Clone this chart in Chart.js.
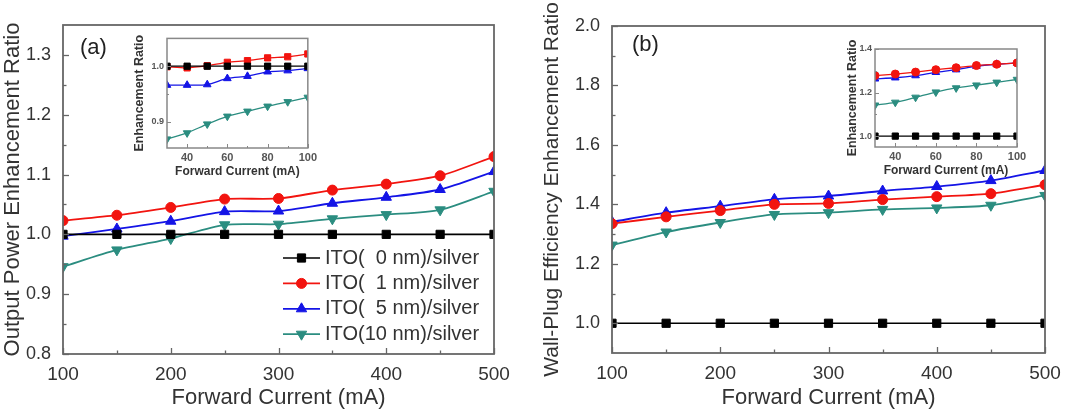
<!DOCTYPE html>
<html>
<head>
<meta charset="utf-8">
<script src="https://cdn.jsdelivr.net/npm/chart.js@4.4.1/dist/chart.umd.min.js"></script>
<style>
  body { margin: 0; background: #fff; width: 1078px; height: 418px; overflow: hidden; position: relative; }
  .panel { position: absolute; }
</style>
</head>
<body>
<div class="panel" style="left:0;top:0;width:539px;height:418px"><canvas id="powerChart"></canvas></div>
<div class="panel" style="left:540px;top:0;width:538px;height:418px"><canvas id="wpeChart"></canvas></div>
<div class="panel" style="left:130px;top:30px;width:190px;height:150px"><canvas id="powerInset"></canvas></div>
<div class="panel" style="left:840px;top:32px;width:190px;height:152px"><canvas id="wpeInset"></canvas></div>
<script>
// forward currents (mA)
const currents = [100, 150, 200, 250, 300, 350, 400, 450, 500];
const insetCurrents = [30, 40, 50, 60, 70, 80, 90, 100];

const labelsA = ['ITO(  0 nm)/silver', 'ITO(  1 nm)/silver', 'ITO(  5 nm)/silver', 'ITO(10 nm)/silver'];
const labelsB = ['ITO (  0 nm)/silver', 'ITO (  1 nm)/silver', 'ITO (  5 nm)/silver', 'ITO (10 nm)/silver'];

// (a) output power enhancement ratio
const powerIto0 = [1.0, 1.0, 1.0, 1.0, 1.0, 1.0, 1.0, 1.0, 1.0];
const powerIto1 = [1.023, 1.032, 1.045, 1.059, 1.060, 1.074, 1.084, 1.098, 1.130];
const powerIto5 = [0.997, 1.009, 1.022, 1.038, 1.039, 1.052, 1.062, 1.075, 1.105];
const powerIto10 = [0.946, 0.974, 0.993, 1.016, 1.017, 1.026, 1.033, 1.041, 1.072];

const powerInsetIto0 = [1.0, 1.0, 1.0, 1.0, 1.0, 1.0, 1.0, 1.0];
const powerInsetIto1 = [0.999, 0.997, 1.001, 1.007, 1.010, 1.015, 1.017, 1.022];
const powerInsetIto5 = [0.966, 0.966, 0.967, 0.978, 0.982, 0.990, 0.992, 0.996];
const powerInsetIto10 = [0.869, 0.880, 0.896, 0.910, 0.919, 0.928, 0.936, 0.944];

// (b) wall-plug efficiency enhancement ratio
const wpeIto0 = [1.0, 1.0, 1.0, 1.0, 1.0, 1.0, 1.0, 1.0, 1.0];
const wpeIto1 = [1.335, 1.358, 1.379, 1.400, 1.403, 1.416, 1.426, 1.436, 1.466];
const wpeIto5 = [1.341, 1.372, 1.394, 1.417, 1.428, 1.445, 1.460, 1.480, 1.514];
const wpeIto10 = [1.263, 1.307, 1.339, 1.366, 1.372, 1.383, 1.388, 1.397, 1.430];

const wpeInsetIto0 = [1.0, 1.0, 1.0, 1.0, 1.0, 1.0, 1.0, 1.0];
const wpeInsetIto1 = [1.278, 1.285, 1.294, 1.305, 1.314, 1.324, 1.330, 1.336];
const wpeInsetIto5 = [1.263, 1.268, 1.278, 1.293, 1.305, 1.321, 1.330, 1.336];
const wpeInsetIto10 = [1.142, 1.155, 1.178, 1.202, 1.221, 1.234, 1.247, 1.260];

const FONT = 'Arial, "Liberation Sans", sans-serif';
Chart.defaults.font.family = FONT;
Chart.defaults.animation = false;

const BLACK = '#000000', RED = '#f2140f', BLUE = '#1414e6', TEAL = '#2b8d80';

function series(label, xs, ys, color, style, rot, r, w) {
    return {
        label, data: xs.map((x, i) => ({ x, y: ys[i] })),
        borderColor: color, backgroundColor: color, pointBackgroundColor: color, pointBorderColor: color,
        borderWidth: w, pointStyle: style, pointRotation: rot, pointRadius: r, pointBorderWidth: 1,
        tension: 0.25
    };
}

// box round the plot plus inward major/minor ticks on bottom and left
const framePlugin = {
    id: 'frame',
    afterDatasetsDraw(chart, args, o) {
        const { ctx, chartArea: a } = chart;
        ctx.save();
        ctx.strokeStyle = o.color;
        ctx.lineWidth = o.width;
        ctx.strokeRect(a.left, a.top, a.right - a.left, a.bottom - a.top);
        ctx.lineWidth = o.tickWidth;
        ['x', 'y'].forEach(id => {
            const s = chart.scales[id];
            const vals = s.ticks.map(t => t.value);
            const step = vals.length > 1 ? vals[1] - vals[0] : s.max - s.min;
            const marks = [];
            for (let i = -1; i < vals.length; i++) {
                if (i >= 0) marks.push([vals[i], o.major]);
                const m = (i >= 0 ? vals[i] : vals[0] - step) + step / 2;
                if (m > s.min + 1e-9 && m < s.max - 1e-9) marks.push([m, o.minor]);
            }
            marks.forEach(([v, len]) => {
                const p = Math.round(s.getPixelForValue(v)) + 0.5;
                ctx.beginPath();
                if (id === 'x') { ctx.moveTo(p, a.bottom); ctx.lineTo(p, a.bottom - len); }
                else { ctx.moveTo(a.left, p); ctx.lineTo(a.left + len, p); }
                ctx.stroke();
            });
        });
        ctx.restore();
    }
};

// line + marker legend and panel tag
const keyPlugin = {
    id: 'key',
    afterDraw(chart, args, o) {
        const ctx = chart.ctx;
        ctx.save();
        ctx.textBaseline = 'middle';
        ctx.fillStyle = '#222';
        ctx.font = o.tagFont;
        ctx.fillText(o.tag, o.tagX, o.tagY);
        chart.data.datasets.forEach((ds, i) => {
            const y = o.y + i * o.gap;
            ctx.strokeStyle = ds.borderColor;
            ctx.lineWidth = ds.borderWidth;
            ctx.beginPath(); ctx.moveTo(o.x, y); ctx.lineTo(o.x + o.len, y); ctx.stroke();
            ctx.fillStyle = ds.backgroundColor;
            ctx.lineWidth = 1;
            Chart.helpers.drawPoint(ctx, { pointStyle: ds.pointStyle, rotation: ds.pointRotation, radius: ds.pointRadius, borderWidth: 1 }, o.x + o.len / 2, y);
            ctx.fillStyle = '#333';
            ctx.font = o.font;
            ctx.fillText(ds.label, o.x + o.len + o.textGap, y);
        });
        ctx.restore();
    }
};

function axes(cfg) {
    return {
        x: {
            type: 'linear', min: cfg.xMin, max: cfg.xMax,
            afterFit: s => { s.height = cfg.xHeight; },
            grid: { display: false, drawTicks: false },
            border: { display: false },
            ticks: { stepSize: cfg.xStep, includeBounds: false, padding: cfg.xPad, color: cfg.tickColor, font: cfg.xTickFont, maxRotation: 0 },
            title: { display: true, text: 'Forward Current (mA)', color: '#333', font: cfg.titleFont, padding: 0 }
        },
        y: {
            type: 'linear', min: cfg.yMin, max: cfg.yMax,
            afterFit: s => { s.width = cfg.yWidth; },
            grid: { display: false, drawTicks: false },
            border: { display: false },
            ticks: { stepSize: cfg.yStep, includeBounds: false, padding: cfg.yPad, color: cfg.tickColor, font: cfg.yTickFont, callback: v => v.toFixed(1) },
            title: { display: true, text: cfg.yTitle, color: '#333', font: cfg.yTitleFont || cfg.titleFont, padding: 0 }
        }
    };
}

function baseOptions(cfg, pad, extra) {
    return {
        responsive: true, maintainAspectRatio: false, events: [],
        layout: { padding: pad },
        scales: axes(cfg),
        plugins: Object.assign({ legend: { display: false }, tooltip: { enabled: false } }, extra)
    };
}

// (a) main
new Chart(document.getElementById('powerChart'), {
    type: 'line',
    data: {
        datasets: [
            series(labelsA[0], currents, powerIto0, BLACK, 'rect', 0, 5.8, 1.6),
            series(labelsA[1], currents, powerIto1, RED, 'circle', 0, 5, 1.8),
            series(labelsA[2], currents, powerIto5, BLUE, 'triangle', 0, 6, 1.8),
            series(labelsA[3], currents, powerIto10, TEAL, 'triangle', 180, 6, 1.8)
        ]
    },
    options: baseOptions({
        xMin: 100, xMax: 500, xStep: 100, xHeight: 57, xPad: 9,
        yMin: 0.8, yMax: 1.35, yStep: 0.1, yWidth: 63, yPad: 12,
        tickColor: '#333', xTickFont: { size: 19 }, yTickFont: { size: 18 },
        titleFont: { size: 22 }, yTitle: 'Output Power Enhancement Ratio'
    }, { left: 0, top: 25, right: 45, bottom: 7 }, {
        frame: { color: '#666', width: 1.8, tickWidth: 1.3, major: 6, minor: 3.5 },
        key: { x: 283, y: 258, gap: 25.4, len: 37, textGap: 5, font: '20px ' + FONT, tag: '(a)', tagX: 80, tagY: 48, tagFont: '22px ' + FONT }
    }),
    plugins: [framePlugin, keyPlugin]
});

// (b) main
new Chart(document.getElementById('wpeChart'), {
    type: 'line',
    data: {
        datasets: [
            series(labelsB[0], currents, wpeIto0, BLACK, 'rect', 0, 5.8, 1.6),
            series(labelsB[1], currents, wpeIto1, RED, 'circle', 0, 5, 1.8),
            series(labelsB[2], currents, wpeIto5, BLUE, 'triangle', 0, 6, 1.8),
            series(labelsB[3], currents, wpeIto10, TEAL, 'triangle', 180, 6, 1.8)
        ]
    },
    options: baseOptions({
        xMin: 100, xMax: 500, xStep: 100, xHeight: 58, xPad: 9,
        yMin: 0.9, yMax: 2.0, yStep: 0.2, yWidth: 72, yPad: 12,
        tickColor: '#333', xTickFont: { size: 19 }, yTickFont: { size: 18 },
        titleFont: { size: 22 }, yTitleFont: { size: 21 }, yTitle: 'Wall-Plug Efficiency Enhancement Ratio'
    }, { left: 0, top: 26, right: 33, bottom: 7 }, {
        frame: { color: '#666', width: 1.8, tickWidth: 1.3, major: 6, minor: 3.5 },
        key: { x: 632, y: 91, gap: 25, len: 41, textGap: 5, font: '20px ' + FONT, tag: '(b)', tagX: 92, tagY: 45, tagFont: '22px ' + FONT }
    }),
    plugins: [framePlugin, keyPlugin]
});

// (a) inset
new Chart(document.getElementById('powerInset'), {
    type: 'line',
    data: {
        datasets: [
            series('ITO 0', insetCurrents, powerInsetIto0, BLACK, 'rect', 0, 4.4, 1.3),
            series('ITO 1', insetCurrents, powerInsetIto1, RED, 'rect', 0, 4.4, 1.3),
            series('ITO 5', insetCurrents, powerInsetIto5, BLUE, 'triangle', 0, 4.4, 1.3),
            series('ITO 10', insetCurrents, powerInsetIto10, TEAL, 'triangle', 180, 4.4, 1.3)
        ]
    },
    options: baseOptions({
        xMin: 30, xMax: 100, xStep: 20, xHeight: 31, xPad: 3,
        yMin: 0.853, yMax: 1.05, yStep: 0.1, yWidth: 35, yPad: 3,
        tickColor: '#555', xTickFont: { size: 11, weight: 'bold' }, yTickFont: { size: 9, weight: 'bold' },
        titleFont: { size: 12, weight: 'bold' }, yTitleFont: { size: 12.5, weight: 'bold' }, yTitle: 'Enhancement Ratio'
    }, { left: 2, top: 4, right: 9, bottom: 1 }, {
        frame: { color: '#888', width: 1.5, tickWidth: 1, major: 4, minor: 2 }
    }),
    plugins: [framePlugin]
});

// (b) inset
new Chart(document.getElementById('wpeInset'), {
    type: 'line',
    data: {
        datasets: [
            series('ITO 0', insetCurrents, wpeInsetIto0, BLACK, 'rect', 0, 4.4, 1.3),
            series('ITO 1', insetCurrents, wpeInsetIto1, RED, 'circle', 0, 4, 1.3),
            series('ITO 5', insetCurrents, wpeInsetIto5, BLUE, 'triangle', 0, 4.4, 1.3),
            series('ITO 10', insetCurrents, wpeInsetIto10, TEAL, 'triangle', 180, 4.4, 1.3)
        ]
    },
    options: baseOptions({
        xMin: 30, xMax: 100, xStep: 20, xHeight: 31, xPad: 3,
        yMin: 0.95, yMax: 1.4, yStep: 0.2, yWidth: 30, yPad: 3,
        tickColor: '#555', xTickFont: { size: 11, weight: 'bold' }, yTickFont: { size: 9, weight: 'bold' },
        titleFont: { size: 12, weight: 'bold' }, yTitleFont: { size: 12.5, weight: 'bold' }, yTitle: 'Enhancement Ratio'
    }, { left: 5, top: 17, right: 13, bottom: 6 }, {
        frame: { color: '#888', width: 1.5, tickWidth: 1, major: 4, minor: 2 }
    }),
    plugins: [framePlugin]
});
</script>
</body>
</html>
